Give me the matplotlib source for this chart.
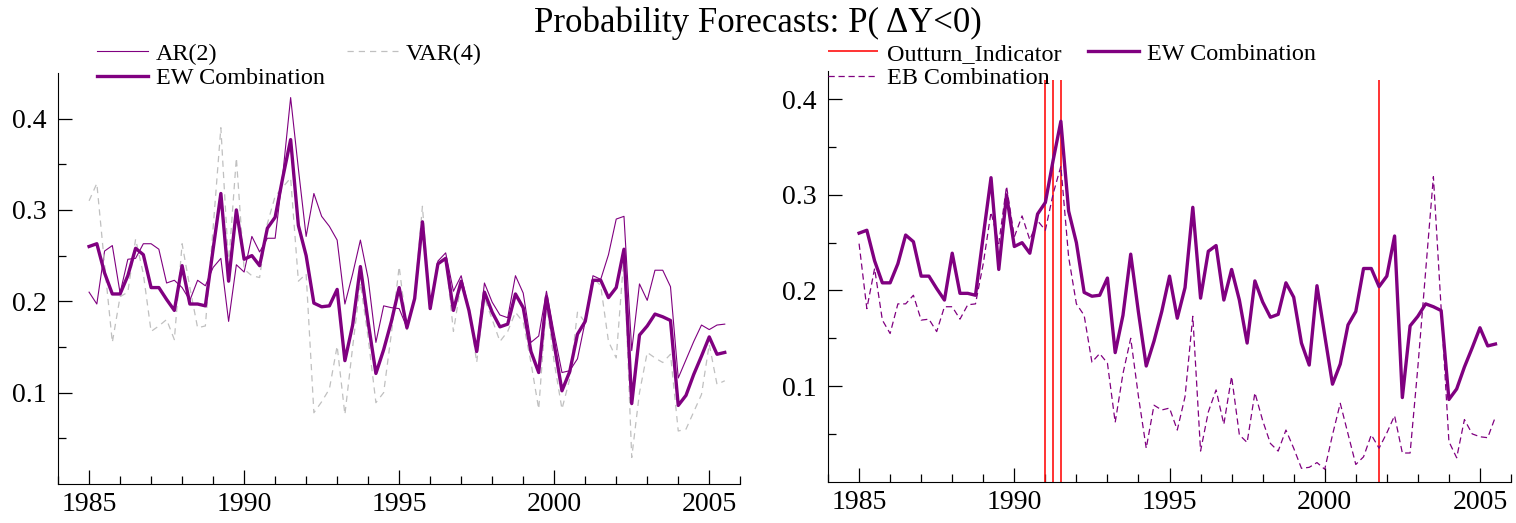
import matplotlib
matplotlib.use("Agg")
import matplotlib.pyplot as plt
import numpy as np

plt.rcParams['font.family'] = ['Liberation Serif', 'DejaVu Serif']

# quarterly, 1985Q1 .. 2005Q3
dates = np.arange(1985, 2005.6, 0.25)

ew_comb = [0.260, 0.263, 0.231, 0.208,
           0.208, 0.228, 0.258, 0.251,
           0.215, 0.215, 0.202, 0.190,
           0.239, 0.197, 0.197, 0.195,
           0.257, 0.318, 0.222, 0.300,
           0.246, 0.250, 0.239, 0.280,
           0.292, 0.336, 0.377, 0.283,
           0.250, 0.198, 0.194, 0.195,
           0.213, 0.135, 0.174, 0.238,
           0.177, 0.121, 0.147, 0.178,
           0.215, 0.171, 0.203, 0.287,
           0.192, 0.241, 0.247, 0.190,
           0.222, 0.190, 0.145, 0.210,
           0.188, 0.172, 0.175, 0.208,
           0.193, 0.145, 0.122, 0.205,
           0.153, 0.102, 0.123, 0.164,
           0.178, 0.223, 0.223, 0.204,
           0.215, 0.257, 0.088, 0.163,
           0.173, 0.186, 0.183, 0.179,
           0.086, 0.097, 0.120, 0.140,
           0.161, 0.142, 0.144]

ar2 = [0.210, 0.197, 0.255, 0.261,
       0.209, 0.246, 0.247, 0.263,
       0.263, 0.257, 0.220, 0.223,
       0.215, 0.201, 0.223, 0.217,
       0.237, 0.247, 0.178, 0.240,
       0.232, 0.271, 0.254, 0.269,
       0.269, 0.340, 0.423, 0.345,
       0.271, 0.318, 0.293, 0.282,
       0.267, 0.197, 0.230, 0.267,
       0.225, 0.155, 0.195, 0.193,
       0.192, 0.171, 0.202, 0.284,
       0.191, 0.244, 0.253, 0.211,
       0.228, 0.191, 0.147, 0.220,
       0.199, 0.185, 0.182, 0.228,
       0.209, 0.155, 0.162, 0.211,
       0.165, 0.122, 0.124, 0.137,
       0.178, 0.228, 0.224, 0.251,
       0.290, 0.293, 0.146, 0.219,
       0.201, 0.234, 0.234, 0.216,
       0.116, 0.136, 0.156, 0.174,
       0.169, 0.174, 0.175]

var4 = [0.310, 0.329, 0.240, 0.155,
        0.205, 0.210, 0.268, 0.230,
        0.167, 0.173, 0.180, 0.158,
        0.263, 0.215, 0.171, 0.173,
        0.280, 0.390, 0.240, 0.357,
        0.235, 0.228, 0.226, 0.285,
        0.315, 0.325, 0.335, 0.222,
        0.230, 0.078, 0.090, 0.104,
        0.151, 0.076, 0.150, 0.220,
        0.160, 0.089, 0.100, 0.165,
        0.238, 0.169, 0.206, 0.304,
        0.191, 0.242, 0.248, 0.167,
        0.220, 0.195, 0.133, 0.204,
        0.180, 0.156, 0.167, 0.188,
        0.177, 0.133, 0.082, 0.198,
        0.133, 0.082, 0.115, 0.188,
        0.177, 0.226, 0.217, 0.156,
        0.138, 0.250, 0.029, 0.100,
        0.144, 0.138, 0.133, 0.142,
        0.058, 0.060, 0.079, 0.098,
        0.153, 0.109, 0.113]

eb_comb = [0.249, 0.181, 0.223, 0.169,
           0.155, 0.186, 0.186, 0.195,
           0.169, 0.170, 0.157, 0.183,
           0.183, 0.170, 0.185, 0.186,
           0.228, 0.282, 0.249, 0.309,
           0.256, 0.278, 0.253, 0.273,
           0.263, 0.301, 0.330, 0.235,
           0.186, 0.174, 0.125, 0.134,
           0.124, 0.062, 0.113, 0.150,
           0.089, 0.035, 0.080, 0.075,
           0.077, 0.054, 0.089, 0.173,
           0.032, 0.073, 0.096, 0.060,
           0.110, 0.049, 0.041, 0.093,
           0.064, 0.040, 0.032, 0.054,
           0.035, 0.014, 0.015, 0.020,
           0.013, 0.049, 0.082, 0.050,
           0.018, 0.026, 0.049, 0.035,
           0.051, 0.069, 0.030, 0.030,
           0.120, 0.220, 0.319, 0.181,
           0.042, 0.025, 0.065, 0.050,
           0.047, 0.046, 0.068]

# quarters where the outturn indicator is 1
outturn_dates = [1991.0, 1991.25, 1991.5, 2001.75]
outturn_top = 0.42

purple = '#800080'

fig = plt.figure(figsize=(15.16, 5.23), dpi=100)
ax1 = fig.add_axes([0.0383, 0.0746, 0.450, 0.786])
ax2 = fig.add_axes([0.5462, 0.0790, 0.4505, 0.786])

h_ar, = ax1.plot(dates, ar2, color=purple, lw=0.8, label='AR(2)')
h_var, = ax1.plot(dates, var4, color='#c0c0c0', lw=0.9, dashes=(5, 4), label='VAR(4)')
h_ew, = ax1.plot(dates, ew_comb, color=purple, lw=2.4, label='EW Combination')

h_out = ax2.vlines(outturn_dates, 0, outturn_top, color='#ff1010', lw=1.2, label='Outturn_Indicator')
h_ew2, = ax2.plot(dates, ew_comb, color=purple, lw=2.4, label='EW Combination')
h_eb, = ax2.plot(dates, eb_comb, color=purple, lw=0.9, dashes=(5, 3), label='EB Combination')

for ax, top in ((ax1, 0.45), (ax2, 0.43)):
    ax.set_xlim(1984, 2006)
    ax.set_ylim(0, top)
    ax.spines['top'].set_visible(False)
    ax.spines['right'].set_visible(False)
    ax.set_xticks([1985, 1990, 1995, 2000, 2005])
    ax.set_xticks(np.arange(1984, 2007, 1), minor=True)
    ax.set_yticks([0.1, 0.2, 0.3, 0.4])
    ax.set_yticks([0.05, 0.15, 0.25, 0.35], minor=True)
    ax.tick_params(which='major', direction='in', length=10, width=0.9, labelsize=20, pad=8)
    ax.tick_params(which='minor', direction='in', length=5.5, width=0.9)
    ax.tick_params(axis='x', which='major', pad=6)

leg_kw = dict(ncol=2, frameon=False, fontsize=17.4, loc='upper left',
              bbox_transform=fig.transFigure, borderpad=0, handlelength=2.1,
              handletextpad=0.35, labelspacing=0.1, borderaxespad=0)
ax1.legend([h_ar, h_ew, h_var], ['AR(2)', 'EW Combination', 'VAR(4)'],
           bbox_to_anchor=(0.064, 0.918), columnspacing=0.9, **leg_kw)
ax2.legend([h_out, h_eb, h_ew2], ['Outturn_Indicator', 'EB Combination', 'EW Combination'],
           bbox_to_anchor=(0.546, 0.918), columnspacing=1.1, **leg_kw)

fig.suptitle('Probability Forecasts: P( \u0394Y<0)', fontsize=25, y=0.988)

fig.savefig('out.png', dpi=100)
